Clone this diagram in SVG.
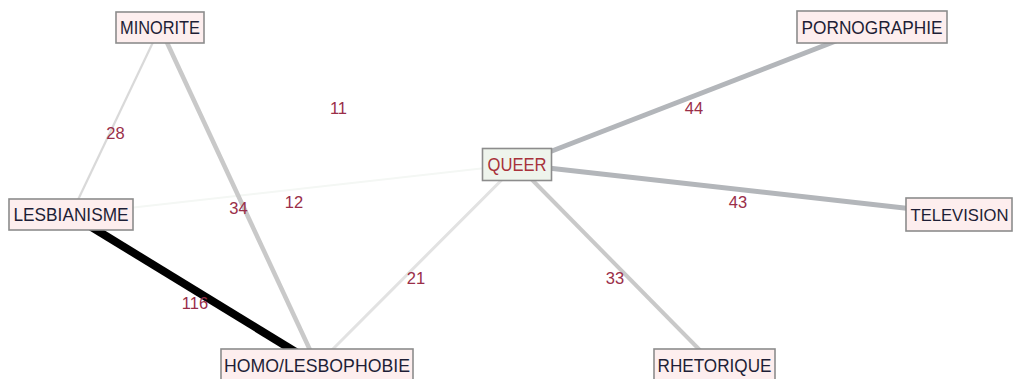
<svg xmlns="http://www.w3.org/2000/svg" width="1013" height="379" viewBox="0 0 1013 379">
<style>
.bg{fill:#ffffff}
.box{fill:#fdeeee;stroke:#8c8c8c;stroke-width:1.6}
.box.q{fill:#eef4ec}
.nt{font-family:"Liberation Sans",Arial,sans-serif;font-size:18px;fill:#1e1e36;text-anchor:middle}
.nt.q{fill:#a8323a}
.nt.s{font-size:17px}
.el{font-family:"Liberation Sans",Arial,sans-serif;font-size:16.5px;fill:#9a2e48;text-anchor:middle}
.e{fill:none;stroke-linecap:butt}
</style>
<rect class="bg" x="0" y="0" width="1013" height="379"/>
<g id="connectors">
  <line class="e" x1="160" y1="27.5" x2="517" y2="164.5" stroke="#ffffff" stroke-width="1.5"/>
  <line class="e" x1="71" y1="214.5" x2="517" y2="164.5" stroke="#f4f7f4" stroke-width="2"/>
  <line class="e" x1="160" y1="27.5" x2="71" y2="214.5" stroke="#d9d9d9" stroke-width="2.2"/>
  <line class="e" x1="160" y1="27.5" x2="317" y2="365" stroke="#c9c9c9" stroke-width="4.5"/>
  <line class="e" x1="71" y1="214.5" x2="317" y2="365" stroke="#000000" stroke-width="8"/>
  <line class="e" x1="517" y1="164.5" x2="317" y2="365" stroke="#e2e2e2" stroke-width="3"/>
  <line class="e" x1="517" y1="164.5" x2="714.5" y2="365" stroke="#c9c9c9" stroke-width="4"/>
  <line class="e" x1="517" y1="164.5" x2="872" y2="27" stroke="#b3b6ba" stroke-width="5"/>
  <line class="e" x1="517" y1="164.5" x2="962" y2="214.5" stroke="#b3b6ba" stroke-width="5"/>
  <text class="el" x="338.5" y="114">11</text>
  <text class="el" x="294" y="208">12</text>
  <text class="el" x="115.5" y="139">28</text>
  <text class="el" x="238.5" y="214">34</text>
  <text class="el" x="195" y="309">116</text>
  <text class="el" x="416" y="284">21</text>
  <text class="el" x="615" y="284">33</text>
  <text class="el" x="694" y="114">44</text>
  <text class="el" x="738" y="208">43</text>
</g>
<g id="n-minorite">
  <rect class="box" x="116" y="12" width="88" height="31"/>
  <text class="nt" x="160" y="34" textLength="80" lengthAdjust="spacingAndGlyphs">MINORITE</text>
</g>
<g id="n-lesbianisme">
  <rect class="box" x="9" y="199" width="124" height="31"/>
  <text class="nt" x="71" y="221" textLength="115" lengthAdjust="spacingAndGlyphs">LESBIANISME</text>
</g>
<g id="n-queer">
  <rect class="box q" x="482.5" y="148.5" width="69" height="32"/>
  <text class="nt q" x="517" y="171" textLength="59" lengthAdjust="spacingAndGlyphs">QUEER</text>
</g>
<g id="n-pornographie">
  <rect class="box" x="797" y="11" width="150" height="32"/>
  <text class="nt" x="872" y="33.5" textLength="141" lengthAdjust="spacingAndGlyphs">PORNOGRAPHIE</text>
</g>
<g id="n-television">
  <rect class="box" x="906" y="198" width="106" height="33"/>
  <text class="nt s" x="959.5" y="221" textLength="98" lengthAdjust="spacingAndGlyphs">TELEVISION</text>
</g>
<g id="n-homolesbophobie">
  <rect class="box" x="221" y="349" width="192" height="33"/>
  <text class="nt" x="317" y="372" textLength="186" lengthAdjust="spacingAndGlyphs">HOMO/LESBOPHOBIE</text>
</g>
<g id="n-rhetorique">
  <rect class="box" x="654" y="349" width="121" height="33"/>
  <text class="nt" x="714.5" y="372" textLength="114" lengthAdjust="spacingAndGlyphs">RHETORIQUE</text>
</g>
</svg>
